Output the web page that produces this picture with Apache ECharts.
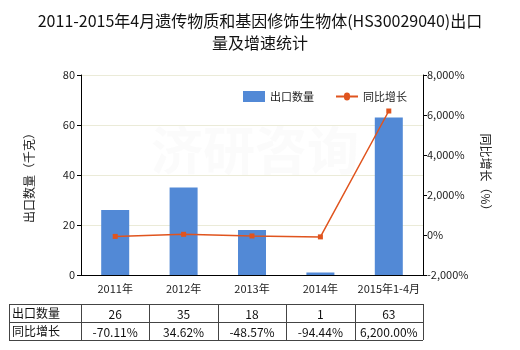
<!DOCTYPE html>
<html><head><meta charset="utf-8">
<script src="https://cdn.jsdelivr.net/npm/echarts@6/dist/echarts.min.js"></script>
<style>html,body{margin:0;padding:0;background:#fff}#c{width:520px;height:350px}</style>
</head><body><div id="c"></div>
<script>
const categories = ['2011年','2012年','2013年','2014年','2015年1-4月'];
const exportQty = [26, 35, 18, 1, 63];
const growth = [-70.11, 34.62, -48.57, -94.44, 6200.00];
const qtyLabels = ['26','35','18','1','63'];
const growthLabels = ['-70.11%','34.62%','-48.57%','-94.44%','6,200.00%'];
const rowNames = ['出口数量','同比增长'];

const FONT = '"Noto Sans CJK SC", "Microsoft YaHei", sans-serif';
const chart = echarts.init(document.getElementById('c'));
const option = {
  animation: false,
  textStyle: {fontFamily: FONT},
  title: {
    text: '2011-2015年4月遗传物质和基因修饰生物体(HS30029040)出口\n量及增速统计',
    left: 'center', top: 5,
    textStyle: {fontSize: 16, fontWeight: 'normal', color: '#111', lineHeight: 22, fontFamily: FONT}
  },
  legend: {
    top: 86, left: 238, itemWidth: 22, itemHeight: 11, itemGap: 22,
    textStyle: {fontSize: 11, color: '#222', fontFamily: FONT},
    data: [{name: '出口数量', icon: 'rect'}, {name: '同比增长'}]
  },
  grid: {left: 81, right: 97, top: 75, bottom: 75},
  xAxis: {
    type: 'category', data: categories,
    axisLine: {lineStyle: {color: '#000'}},
    axisTick: {alignWithLabel: true, length: 4, lineStyle: {color: '#000'}},
    axisLabel: {fontSize: 11, color: '#222', margin: 8, interval: 0}
  },
  yAxis: [{
    type: 'value', min: 0, max: 80, interval: 20,
    name: '出口数量（千克）', nameLocation: 'middle', nameGap: 46,
    nameTextStyle: {fontSize: 12, color: '#222'},
    axisLine: {show: true, lineStyle: {color: '#000'}},
    axisTick: {show: true, length: 4, lineStyle: {color: '#000'}},
    axisLabel: {fontSize: 11, color: '#222', margin: 6},
    splitLine: {lineStyle: {color: '#ebebd8'}}
  }, {
    type: 'value', min: -2000, max: 8000, interval: 2000,
    name: '同比增长（%）', nameLocation: 'middle', nameGap: 52, nameRotate: -90,
    nameTextStyle: {fontSize: 12, color: '#222'},
    axisLine: {show: true, lineStyle: {color: '#000'}},
    axisTick: {show: true, length: 4, lineStyle: {color: '#000'}},
    axisLabel: {fontSize: 11, color: '#222', margin: 4,
      formatter: v => v.toLocaleString('en-US') + '%'},
    splitLine: {show: false}
  }],
  series: [{
    name: '出口数量', type: 'bar', data: exportQty, barWidth: 28,
    itemStyle: {color: '#5289d6'}
  }, {
    name: '同比增长', type: 'line', yAxisIndex: 1, data: growth,
    symbol: 'rect', symbolSize: 5,
    lineStyle: {color: '#e0541e', width: 1.5},
    itemStyle: {color: '#e0541e'}
  }]
};
chart.setOption(option);
chart.setOption({legend: {data: [{name: '出口数量', icon: 'rect'}, {name: '同比增长', icon: 'path://M0,4.5L8,4.5A3,3 0 0 1 14,4.5L22,4.5L22,6.5L14,6.5A3,3 0 0 1 8,6.5L0,6.5Z'}]}});

// Table below chart
const centers = categories.map((c, i) => chart.convertToPixel({xAxisIndex: 0}, i));
const half = (centers[1] - centers[0]) / 2;
const tLeft = 9, tTop = 304, rowH = 18;
const colEdges = [tLeft].concat(centers.map(c => c - half)).concat([centers[centers.length-1] + half]);
const tRight = colEdges[colEdges.length - 1];
const tBottom = tTop + rowH * 2;
const g = [];
const lineStyle = {stroke: '#444', lineWidth: 1};
for (let r = 0; r <= 2; r++) {
  g.push({type: 'line', shape: {x1: tLeft, y1: tTop + r*rowH + 0.5, x2: tRight, y2: tTop + r*rowH + 0.5}, style: lineStyle});
}
colEdges.forEach(x => {
  g.push({type: 'line', shape: {x1: Math.round(x)+0.5, y1: tTop, x2: Math.round(x)+0.5, y2: tBottom}, style: lineStyle});
});
const rows = [qtyLabels, growthLabels];
rowNames.forEach((n, r) => {
  g.push({type: 'text', x: tLeft + 3, y: tTop + r*rowH + rowH/2, style: {text: n, fontSize: 12, fill: '#111', verticalAlign: 'middle', fontFamily: FONT}});
  rows[r].forEach((t, i) => {
    g.push({type: 'text', x: centers[i], y: tTop + r*rowH + rowH/2 + 1, style: {text: t, fontSize: 12, fill: '#111', align: 'center', verticalAlign: 'middle', fontFamily: FONT}});
  });
});
// faint watermark
g.push({type: 'text', x: 255, y: 150, z: -1, style: {text: '济研咨询', fontSize: 52, fontWeight: 'bold', fill: 'rgba(200,200,200,0.08)', align: 'center', verticalAlign: 'middle', fontFamily: FONT}});
chart.setOption({graphic: g});
</script>
</body></html>
